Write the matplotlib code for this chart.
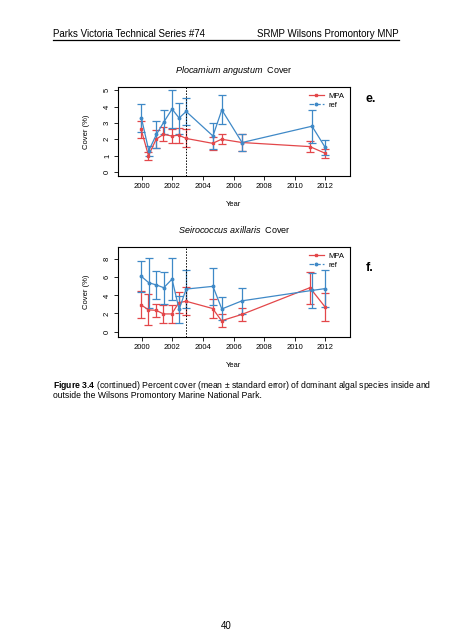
import matplotlib
matplotlib.use('Agg')
import matplotlib.pyplot as plt
from matplotlib.lines import Line2D

plt.rcParams['font.family'] = ['Liberation Sans', 'DejaVu Sans']
plt.rcParams['mathtext.fontset'] = 'custom'
plt.rcParams['mathtext.rm'] = 'Liberation Sans'
plt.rcParams['mathtext.it'] = 'Liberation Sans:italic'
plt.rcParams['mathtext.bf'] = 'Liberation Sans:bold'

# survey times (decimal years)
mpa_t = [1999.96, 2000.44, 2000.94, 2001.42, 2001.96, 2002.42, 2002.90,
         2004.63, 2005.21, 2006.55, 2010.98, 2011.96]
ref_t = [1999.98, 2000.46, 2000.96, 2001.44, 2001.98, 2002.44, 2002.90,
         2004.65, 2005.23, 2006.55, 2011.12, 2011.98]

# Plocamium angustum cover
ploc_mpa = [2.6, 1.0, 2.0, 2.3, 2.2, 2.25, 2.05, 1.75, 2.0, 1.8, 1.55, 1.15]
ploc_mpa_se = [0.53, 0.25, 0.55, 0.42, 0.45, 0.45, 0.55, 0.4, 0.3, 0.5, 0.35, 0.28]
ploc_ref = [3.3, 1.3, 2.3, 3.05, 3.85, 3.3, 3.7, 2.2, 3.8, 1.8, 2.8, 1.5]
ploc_ref_se = [0.88, 0.3, 0.82, 0.75, 1.15, 0.95, 0.83, 0.8, 0.88, 0.53, 1.0, 0.45]

# Seirococcus axillaris cover
seir_mpa = [2.95, 2.4, 2.35, 1.95, 1.95, 3.2, 3.35, 2.55, 1.2, 1.9, 4.85, 2.75]
seir_mpa_se = [1.5, 1.7, 0.75, 0.95, 0.95, 1.2, 1.55, 1.02, 0.7, 0.75, 1.75, 1.55]
seir_ref = [6.1, 5.4, 5.15, 4.85, 5.8, 2.45, 4.7, 5.0, 2.5, 3.4, 4.55, 4.75]
seir_ref_se = [1.73, 2.75, 1.55, 1.75, 2.33, 1.45, 2.1, 2.05, 1.27, 1.47, 1.93, 2.05]

red = '#E3474A'
blue = '#3F89C7'

fig = plt.figure(figsize=(4.52, 6.4), dpi=100)

# page header
fig.text(53/452, 1-34/640, 'Parks Victoria Technical Series #74', fontsize=7, va='center')
fig.text(399/452, 1-34/640, 'SRMP Wilsons Promontory MNP', fontsize=7, va='center', ha='right')
fig.add_artist(Line2D([53/452, 399/452], [1-40/640, 1-40/640], color='black', lw=0.9))


def panel(rect, title, mpa, mpa_se, ref, ref_se, ylim, yticks, tag, tag_y):
    ax = fig.add_axes(rect)
    ax.errorbar(mpa_t, mpa, yerr=mpa_se, color=red, marker='s', ms=2, lw=0.9,
                elinewidth=0.9, capsize=3, capthick=0.9)
    ax.errorbar(ref_t, ref, yerr=ref_se, color=blue, marker='o', ms=1.8, lw=0.9,
                elinewidth=0.9, capsize=3, capthick=0.9)
    ax.axvline(2002.9, color='black', ls=(0, (1.5, 1.5)), lw=0.7)
    ax.set_xlim(1998.45, 2013.6)
    ax.set_ylim(*ylim)
    ax.set_xticks(range(2000, 2013, 2))
    ax.set_yticks(yticks)
    ax.tick_params(labelsize=5.5, length=3, width=0.6, direction='out', pad=2)
    for lab in ax.get_yticklabels():
        lab.set_rotation(90)
        lab.set_va('center')
    for s in ax.spines.values():
        s.set_linewidth(0.8)
    ax.set_xlabel('Year', fontsize=5.5, labelpad=8)
    ax.set_ylabel('Cover (%)', fontsize=5.5, labelpad=10)
    ax.set_title(title, fontsize=6.5, pad=10)
    handles = [Line2D([], [], color=red, marker='s', ms=2, lw=0.9),
               Line2D([], [], color=blue, marker='o', ms=1.8, lw=0.9, ls='--')]
    ax.legend(handles, ['MPA', 'ref'], loc='upper right', frameon=False, fontsize=5.5,
              handlelength=2.0, handletextpad=0.6, labelspacing=0.2,
              borderaxespad=0.3)
    fig.text(366/452, 1-tag_y/640, tag, fontsize=9, fontweight='bold', va='center')
    return ax


panel([118/452, 1-176/640, 232/452, 89/640], r'$\it{Plocamium\ angustum}$  Cover',
      ploc_mpa, ploc_mpa_se, ploc_ref, ploc_ref_se, (-0.25, 5.2), range(0, 6), 'e.', 99)
panel([118/452, 1-337/640, 232/452, 90/640], r'$\it{Seirococcus\ axillaris}$  Cover',
      seir_mpa, seir_mpa_se, seir_ref, seir_ref_se, (-0.6, 9.35), range(0, 9, 2), 'f.', 268)

# caption
fig.text(53/452, 1-385/640, r'$\bf{Figure\ 3.4}$ (continued) Percent cover (mean ± standard error) of dominant algal species inside and',
         fontsize=6.2, va='center')
fig.text(53/452, 1-396/640, 'outside the Wilsons Promontory Marine National Park.',
         fontsize=6.2, va='center')
fig.text(226/452, 1-626/640, '40', fontsize=7, ha='center', va='center')

fig.savefig('out.png', dpi=100)
